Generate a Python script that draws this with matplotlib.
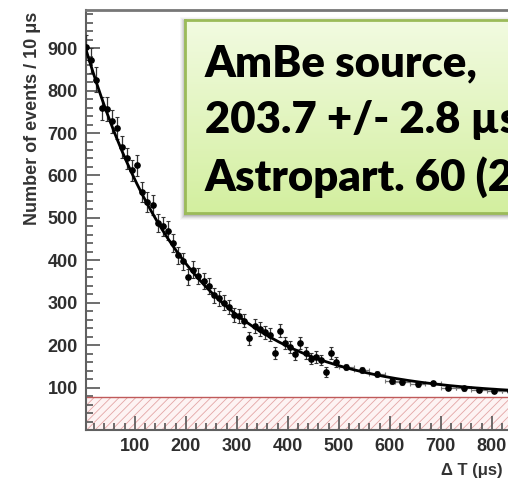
import numpy as np
import matplotlib
matplotlib.use("Agg")
import matplotlib.pyplot as plt
from matplotlib.patches import Rectangle

# Capture-time histogram (10 us bins up to 500 us, 30 us bins beyond)
bin_centers = [5, 15, 25, 35, 45, 55, 65, 75, 85, 95,
               105, 115, 125, 135, 145, 155, 165, 175, 185, 195,
               205, 215, 225, 235, 245, 255, 265, 275, 285, 295,
               305, 315, 325, 335, 345, 355, 365, 375, 385, 395,
               405, 415, 425, 435, 445, 455, 465, 475, 485, 495]
counts = [902, 872, 826, 758, 757, 728, 712, 668, 640, 612,
          624, 560, 538, 530, 488, 480, 470, 440, 412, 398,
          360, 378, 362, 352, 340, 318, 310, 300, 290, 272,
          268, 258, 216, 245, 238, 230, 225, 182, 234, 205,
          196, 178, 205, 182, 168, 172, 165, 137, 182, 160]

wide_centers = [515, 545, 575, 605, 625, 655, 685, 715, 745, 775, 805, 835]
wide_counts = [148, 142, 133, 115, 113, 108, 110, 100, 98, 95, 93, 91]

# Fit: N(t) = A exp(-t / tau) + C
tau_us = 203.7
amplitude = 835.0
background = 80.0
bkg_level = 77.0

x_ticks = [100, 200, 300, 400, 500, 600, 700, 800, 900]
y_ticks = [100, 200, 300, 400, 500, 600, 700, 800, 900]

W, H = 508, 478
fig = plt.figure(figsize=(W / 100, H / 100), dpi=100)
fig.patch.set_facecolor("white")

# main axes (right side runs past the canvas edge)
x_lo, x_hi = 4.5, 1000
left_px, top_px, bot_px = 86, 10, 430
right_px = 83.7 + 0.51 * x_hi
ax = fig.add_axes([left_px / W, 1 - bot_px / H,
                   (right_px - left_px) / W, (bot_px - top_px) / H])
ax.set_xlim(x_lo, x_hi)
ax.set_ylim(0, 990)

tick_font = dict(family="Liberation Sans", weight="bold", size=13)
ax.set_xticks(x_ticks)
ax.set_yticks(y_ticks)
ax.set_xticks(np.arange(20, 1000, 20), minor=True)
ax.set_yticks(np.arange(20, 990, 20), minor=True)
ax.set_xticklabels([str(v) for v in x_ticks], fontdict=tick_font, color="#2e2e2e")
ax.set_yticklabels([str(v) for v in y_ticks], fontdict=tick_font, color="#2e2e2e")
ax.tick_params(which="both", direction="in", color="#555555", width=1.2,
               top=False, right=False)
ax.tick_params(which="major", length=10)
ax.tick_params(which="minor", length=5)
ax.tick_params(axis="y", pad=6)
ax.tick_params(axis="x", pad=6)
for side in ["left", "bottom", "top", "right"]:
    ax.spines[side].set_color("#606060")
    ax.spines[side].set_linewidth(1.5)
ax.spines["top"].set_color("#777777")
ax.spines["top"].set_linewidth(2)

# background band
plt.rcParams["hatch.linewidth"] = 0.6
ax.axhspan(0, bkg_level, facecolor="#fdf3f3", edgecolor="#e3a5a5",
           hatch="////", linewidth=0, zorder=1)
ax.axhline(bkg_level, color="#c05a5a", lw=1.0, zorder=2)

# data
cx = np.array(bin_centers)
cy = np.array(counts, dtype=float)
ax.errorbar(cx, cy, yerr=np.sqrt(cy), fmt="o", ms=3.8, color="black",
            ecolor="#333333", elinewidth=0.9, capsize=1.5, capthick=0.8, zorder=4)
wx = np.array(wide_centers)
wy = np.array(wide_counts, dtype=float)
ax.errorbar(wx, wy, yerr=np.sqrt(wy) * 0.6, xerr=15, fmt="o", ms=3.8, color="black",
            ecolor="#777777", elinewidth=0.9, capsize=1.5, capthick=0.8, zorder=4)

# fitted curve
t = np.linspace(x_lo, x_hi, 400)
ax.plot(t, amplitude * np.exp(-t / tau_us) + background, color="black", lw=2.0, zorder=5)

# axis titles
lab_font = dict(family="Liberation Sans", weight="bold", size=13, color="#333333")
fig.text(33 / W, 1 - 12 / H, "Number of events / 10 μs", rotation=90,
         ha="center", va="top", **lab_font)
fig.text(503 / W, 1 - 471 / H, "Δ T (μs)", ha="right", va="center",
         family="Liberation Sans", weight="bold", size=12, color="#333333")

# annotation box with soft shadow
bx0, by0, bx1, by1 = 185, 20, 640, 213
for i, a in enumerate([0.10, 0.08, 0.06, 0.04, 0.03]):
    g = i + 1
    fig.patches.append(Rectangle(((bx0 - g) / W, 1 - (by1 + 2 + g) / H),
                                 (bx1 - bx0 + 2 * g) / W, (by1 - by0 + 2 * g) / H,
                                 transform=fig.transFigure, facecolor="black",
                                 edgecolor="none", alpha=a, zorder=1))
bax = fig.add_axes([bx0 / W, 1 - by1 / H, (bx1 - bx0) / W, (by1 - by0) / H], zorder=2)
top_c = np.array([0xf2, 0xfb, 0xe1]) / 255
bot_c = np.array([0xd3, 0xef, 0x9f]) / 255
fr = np.linspace(0, 1, 256)[:, None]
grad = (top_c[None, :] * (1 - fr) + bot_c[None, :] * fr)[:, None, :]
bax.imshow(grad, aspect="auto", extent=[0, 1, 0, 1])
bax.set_xticks([])
bax.set_yticks([])
for s in bax.spines.values():
    s.set_color("#9bbb59")
    s.set_linewidth(2)

box_font = dict(family="Lato", weight="heavy", color="black")
lines = ["AmBe source,", "203.7 +/- 2.8 µs", "Astropart. 60 (2015)"]
baselines = [76, 133, 191]
renderer = fig.canvas.get_renderer()
probe = fig.text(0, 0, lines[0], fontsize=30, **box_font)
w30 = probe.get_window_extent(renderer).width
probe.remove()
fs = 30 * 272 / w30
for txt, yb in zip(lines, baselines):
    fig.text(205 / W, 1 - yb / H, txt, fontsize=fs, ha="left", va="baseline",
             zorder=3, **box_font)

fig.savefig("out.png", dpi=100)
